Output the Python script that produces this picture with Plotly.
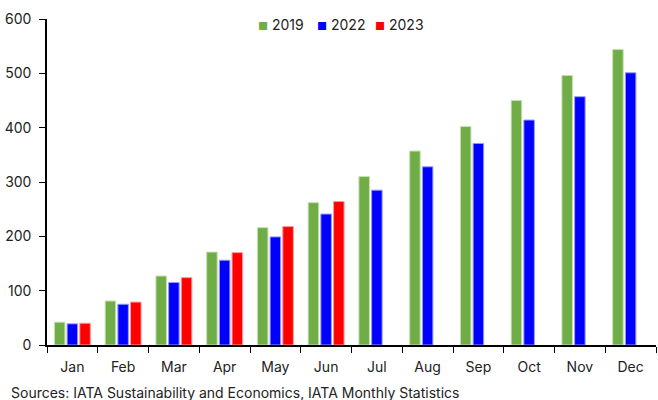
import plotly.graph_objects as go

months = ["Jan", "Feb", "Mar", "Apr", "May", "Jun", "Jul", "Aug", "Sep", "Oct", "Nov", "Dec"]
v2019 = [42, 81, 127, 171, 216, 262, 310, 357, 402, 450, 496, 544]
v2022 = [39, 75, 115, 156, 199, 241, 285, 328, 371, 414, 457, 501]
v2023 = [40, 79, 124, 170, 218, 264, None, None, None, None, None, None]
y_ticks = [0, 100, 200, 300, 400, 500, 600]
series_names = ["2019", "2022", "2023"]
series_colors = ["#70AD47", "#0000FF", "#FF0000"]
series_edges = ["#C5E0B4", "#9999FF", "#FF9999"]

FONT = "Inter, Liberation Sans, sans-serif"

fig = go.Figure()
for name, vals, col, edge in zip(series_names, [v2019, v2022, v2023], series_colors, series_edges):
    fig.add_bar(x=months, y=vals, name=name, showlegend=False,
                marker=dict(color=col, line=dict(color=edge, width=1)))

# Manual compact legend
legend_x = [0.343, 0.44, 0.535]
annotations = []
for name, col, lx in zip(series_names, series_colors, legend_x):
    annotations.append(dict(
        text=f"<span style='color:{col};font-size:11px'>■</span> {name}",
        x=lx, xref="paper", xanchor="left", y=0.982, yref="paper", yanchor="middle",
        showarrow=False, font=dict(size=14, color="#222222")))
annotations.append(dict(
    text="Sources: IATA Sustainability and Economics, IATA Monthly Statistics",
    x=0, xref="paper", xanchor="left", xshift=-38,
    y=0, yref="paper", yanchor="middle", yshift=-47,
    showarrow=False, font=dict(size=14, color="#222222")))

fig.update_layout(
    width=658, height=400,
    margin=dict(l=47, r=2, t=19, b=55),
    paper_bgcolor="white", plot_bgcolor="white",
    barmode="group", bargap=0.25, bargroupgap=0.17,
    font=dict(family=FONT, size=14, color="#222222"),
    showlegend=False,
    xaxis=dict(range=[-0.5, 11.5], showline=True, linecolor="black", linewidth=1.5,
               ticks="outside", tickson="boundaries", ticklen=6, tickcolor="black",
               tickfont=dict(size=14), showgrid=False, ticklabelstandoff=8),
    yaxis=dict(range=[0, 600], tickvals=y_ticks, showline=True, linecolor="black", linewidth=1.5,
               ticks="outside", ticklen=6, tickcolor="black", tickfont=dict(size=14),
               showgrid=False, zeroline=False, ticklabelstandoff=5),
    annotations=annotations,
)

fig.write_html("out.html")
